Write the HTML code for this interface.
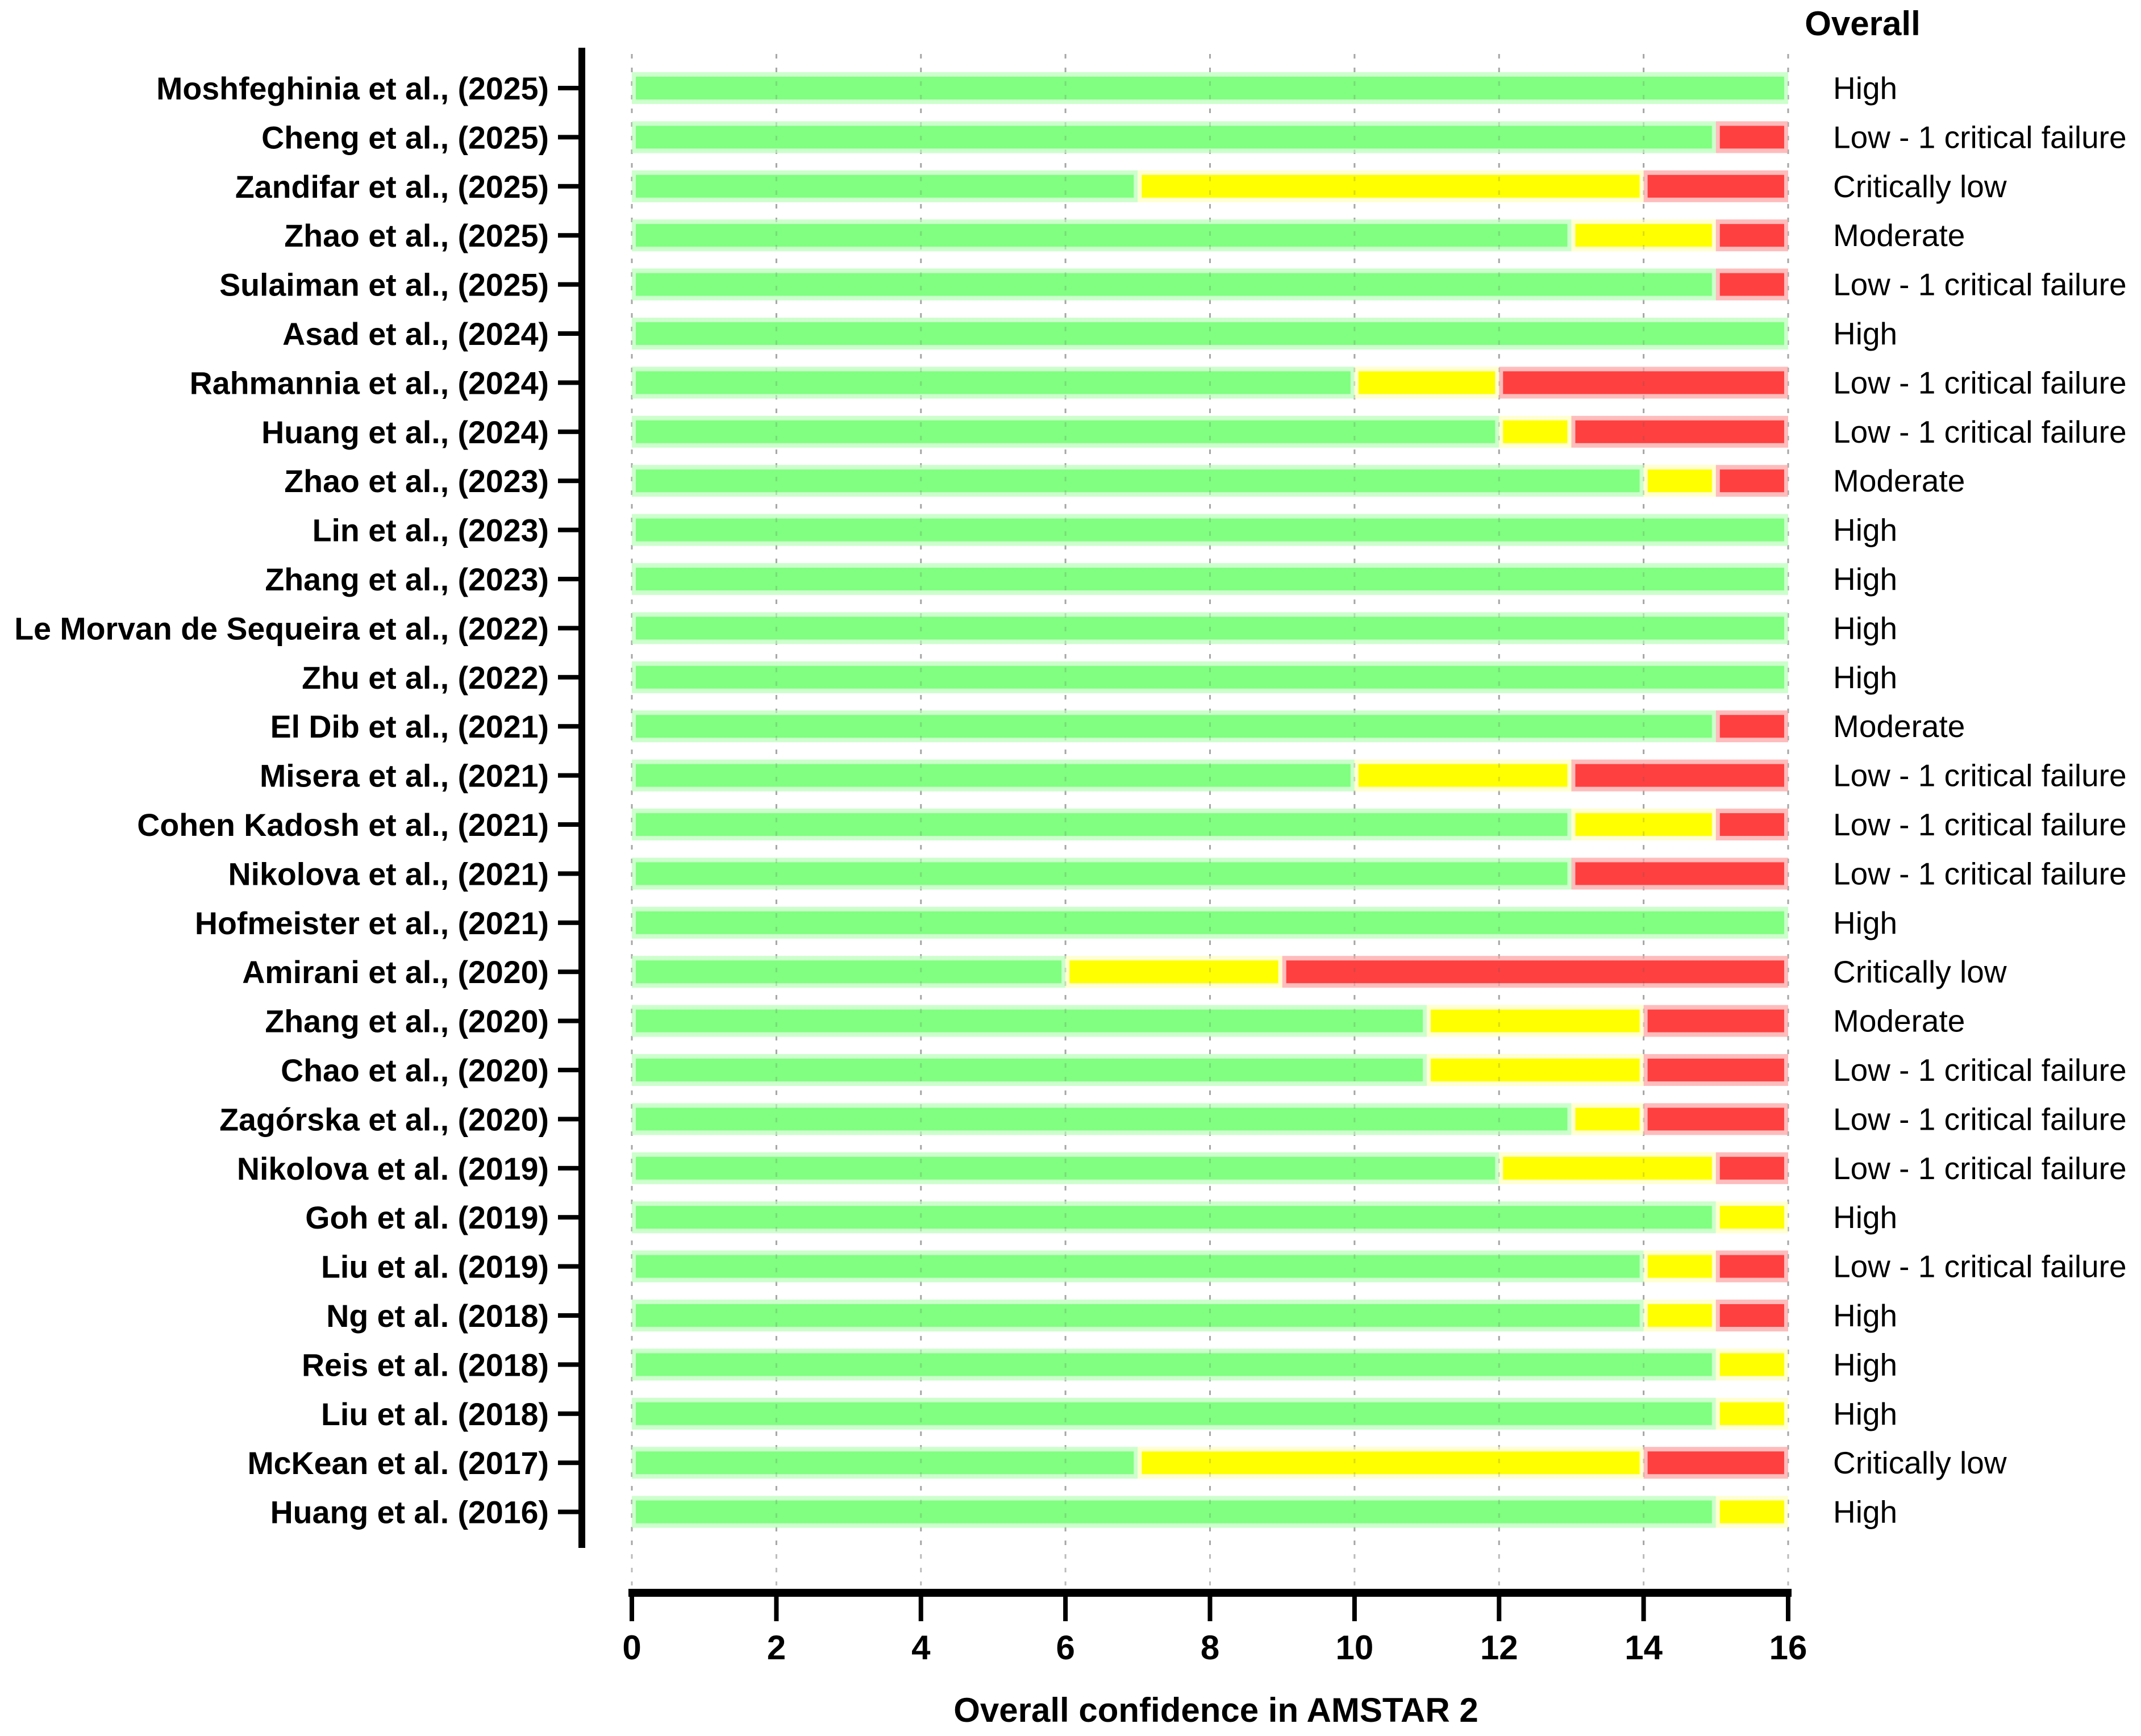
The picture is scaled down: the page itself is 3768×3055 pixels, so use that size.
<!DOCTYPE html>
<html><head><meta charset="utf-8"><style>
html,body{margin:0;padding:0;background:#fff}
svg{display:block}
</style></head><body>
<svg id="chart" xmlns="http://www.w3.org/2000/svg" width="3768" height="3055" viewBox="0 0 3768 3055" font-family="Liberation Sans, Arial, sans-serif">
<g id="grid"></g>
<g id="bars"></g>
<g id="gridtop"></g>
<g id="yaxis"></g>
<g id="xaxis"></g>
<g id="ratings"></g>
<text x="3278" y="62" text-anchor="middle" font-size="60" font-weight="bold">Overall</text>
<text x="2140" y="3030" text-anchor="middle" font-size="60" font-weight="bold">Overall confidence in AMSTAR 2</text>
</svg>
<script>
const studies = ["Moshfeghinia et al., (2025)","Cheng et al., (2025)","Zandifar et al., (2025)","Zhao et al., (2025)","Sulaiman et al., (2025)","Asad et al., (2024)","Rahmannia et al., (2024)","Huang et al., (2024) ","Zhao et al., (2023)","Lin et al., (2023)","Zhang et al., (2023)","Le Morvan de Sequeira et al., (2022)","Zhu et al., (2022)","El Dib et al., (2021)","Misera et al., (2021)","Cohen Kadosh et al., (2021)","Nikolova et al., (2021)","Hofmeister et al., (2021)","Amirani et al., (2020)","Zhang et al., (2020)","Chao et al., (2020)","Zagórska et al., (2020)","Nikolova et al. (2019)","Goh et al. (2019)","Liu et al. (2019)","Ng et al. (2018)","Reis et al. (2018)","Liu et al. (2018)","McKean et al. (2017)","Huang et al. (2016)"];
const greenVals = [16,15,7,13,15,16,10,12,14,16,16,16,16,15,10,13,13,16,6,11,11,13,12,15,14,14,15,15,7,15];
const yellowVals = [0,0,7,2,0,0,2,1,1,0,0,0,0,0,3,2,0,0,3,3,3,1,3,1,1,1,1,1,7,1];
const redVals = [0,1,2,1,1,0,4,3,1,0,0,0,0,1,3,1,3,0,7,2,2,2,1,0,1,1,0,0,2,0];
const ratings = ["High","Low - 1 critical failure","Critically low","Moderate","Low - 1 critical failure","High","Low - 1 critical failure","Low - 1 critical failure","Moderate","High","High","High","High","Moderate","Low - 1 critical failure","Low - 1 critical failure","Low - 1 critical failure","High","Critically low","Moderate","Low - 1 critical failure","Low - 1 critical failure","Low - 1 critical failure","High","Low - 1 critical failure","High","High","High","Critically low","High"];
const xTicks = [0,2,4,6,8,10,12,14,16];

const NS="http://www.w3.org/2000/svg";
const X0=1112, X1=3147, XMAX=16;
const xs = v => X0 + (X1-X0)*v/XMAX;
const Y0=155, DY=86.4;
const ys = i => Y0 + i*DY;
function mk(tag, attrs, parent){const e=document.createElementNS(NS,tag);for(const k in attrs)e.setAttribute(k,attrs[k]);parent.appendChild(e);return e;}
const grid=document.getElementById('grid'), gridtop=document.getElementById('gridtop');
xTicks.forEach(t=>{
  const l=mk('line',{x1:xs(t),x2:xs(t),y1:95,y2:2790,stroke:'#bbb','stroke-width':3,'stroke-dasharray':'8 16'},grid);
  
  
  const l2=mk('line',{x1:xs(t),x2:xs(t),y1:95,y2:2720,stroke:'#555','stroke-width':3,'stroke-dasharray':'8 16',opacity:0.2},gridtop);
  
  
});
const bars=document.getElementById('bars');
const segs=[['green','#80ff80','#ccffcc'],['yellow','#ffff00','#ffffd0'],['red','#ff4040','#ffbcbc']];
studies.forEach((s,i)=>{
  const vals=[greenVals[i],yellowVals[i],redVals[i]];
  let acc=0;
  const cy=ys(i);
  vals.forEach((v,k)=>{
    if(v<=0)return;
    const a=xs(acc), b=xs(acc+v);
    const outer=mk('rect',{x:a,y:cy-28,width:b-a,height:56,fill:segs[k][2]},bars);
    
    
    const inner=mk('rect',{x:a+7,y:cy-20,width:Math.max(0,b-a-14),height:40,fill:segs[k][1]},bars);
    
    
    acc+=v;
  });
});
const ya=document.getElementById('yaxis');
const yl=mk('rect',{x:1018,y:84,width:12,height:2640,fill:'#000'},ya);


studies.forEach((s,i)=>{
  const cy=ys(i);
  const tk=mk('rect',{x:982,y:cy-4,width:40,height:8,fill:'#000'},ya);
  
  
  const tx=mk('text',{x:966,y:cy+20,'text-anchor':'end','font-size':55.5,'font-weight':'bold'},ya);
  tx.textContent=s;
  
  
});
const xa=document.getElementById('xaxis');
const xl=mk('rect',{x:1106,y:2796,width:2047,height:14,fill:'#000'},xa);


xTicks.forEach(t=>{
  const tk=mk('rect',{x:xs(t)-4,y:2805,width:8,height:48,fill:'#000'},xa);
  
  
  const tx=mk('text',{x:xs(t),y:2920,'text-anchor':'middle','font-size':60,'font-weight':'bold'},xa);
  tx.textContent=t;
  
  
});
const rt=document.getElementById('ratings');
ratings.forEach((r,i)=>{
  const tx=mk('text',{x:3226,y:ys(i)+19,'font-size':55},rt);
  tx.textContent=r;
  
  
});
</script>
</body></html>
